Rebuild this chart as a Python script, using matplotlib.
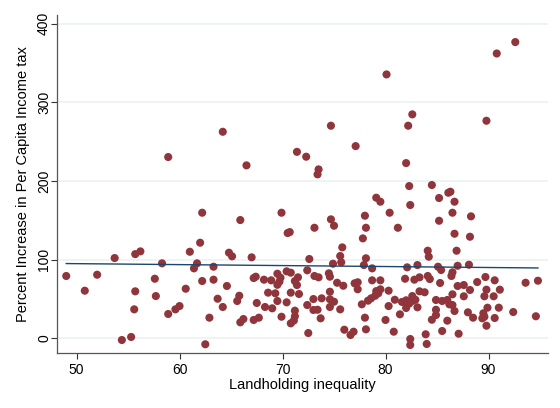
import matplotlib
matplotlib.use("Agg")
import matplotlib.pyplot as plt
import numpy as np

# values (landholding inequality, % increase)
land_top = [58.9, 64.2, 66.5, 71.4, 80.1, 82.6, 82.2, 74.7, 77.1, 72.3, 73.5, 73.4,
            82.0, 92.6, 90.8, 89.8]
tax_top = [230.4, 262.5, 219.8, 237, 335.4, 284.6, 270.2, 270.2, 244.3, 230.8, 214.7, 208.4,
           222.7, 376.5, 362, 276.5]

land_left = [49.0, 50.8, 52.0, 53.7, 55.7, 56.2, 58.3, 57.6, 55.7, 57.7, 55.6, 58.9,
             59.6, 60.0, 54.4, 55.3]
tax_left = [79.2, 60.5, 80.8, 102, 107, 110.5, 95.3, 75.7, 59.7, 53.7, 36.8, 30.9,
            36.8, 41, -2.2, 1.7]

land_mid1 = [62.2, 65.9, 69.9, 70.7, 70.5, 62.0, 61.0, 64.8, 65.1, 67.0, 61.7, 61.4,
             63.3, 62.2, 63.3, 60.6, 64.6, 67.2, 67.4, 68.2, 68.9, 69.5, 69.8, 69.7,
             69.5, 70.4, 70.8, 71.2, 71.4, 71.5, 70.8, 71.6, 68.6, 69.3, 69.5, 70.4,
             63.7, 64.2, 65.8, 65.6, 67.5, 68.3, 69.0, 71.2, 62.9, 65.9, 66.2, 67.2,
             67.7, 69.9, 70.8, 71.1, 71.2, 62.5]
tax_mid1 = [159.6, 150.3, 159.6, 135, 133.8, 121.5, 110, 108.8, 104.2, 102.9, 95.3, 88.9,
            91, 72.8, 74.5, 63, 66.5, 76.6, 78.3, 74.5, 73.7, 82.1, 77, 72,
            68, 85.1, 83.4, 72.8, 67.7, 77.5, 58, 56.3, 58, 57.2, 47.4, 45.7,
            50.3, 39.8, 54.1, 47.4, 44.9, 39.8, 38.1, 35.1, 26.2, 20.3, 24.5, 23.3,
            26.2, 27.4, 19, 22.5, 28, -7.6]

land_mid2 = [82.3, 79.1, 79.5, 82.4, 80.4, 78.0, 74.7, 75.0, 73.1, 78.1, 81.2, 77.8,
             75.8, 75.6, 75.7, 72.6, 74.9, 78.1, 77.9, 78.7, 82.1, 83.1, 72.4, 73.1,
             73.5, 74.5, 74.6, 75.3, 75.9, 77.0, 77.3, 77.3, 78.7, 79.5, 81.9, 82.8,
             73.0, 73.8, 74.6, 74.6, 75.0, 74.6, 72.4, 73.0, 73.4, 75.6, 73.7, 77.7,
             78.3, 78.6, 79.0, 79.1, 79.3, 79.5, 80.3, 80.9, 80.3, 81.6, 82.0, 82.3,
             82.6, 82.6, 82.9, 83.1, 82.0, 81.4, 78.0, 80.0, 76.0, 76.9, 76.6, 78.1,
             80.8, 72.5, 82.4, 82.4]
tax_mid2 = [193.5, 178.7, 173.6, 169.4, 159.6, 155.8, 151.2, 143.1, 140.5, 140.5, 140.5, 127,
            115.6, 104.6, 96.6, 100.8, 94.8, 101.7, 93.1, 88.9, 90.2, 93.1, 86.4, 79.2,
            77.5, 82.6, 78.3, 70.6, 66.8, 69.9, 71.2, 62.3, 73.7, 73.7, 75.7, 74.5,
            49.9, 50.8, 59.2, 49.6, 46.5, 39.8, 42.3, 36, 36.3, 36.8, 25.4, 43.2,
            47.8, 50.8, 54.1, 60, 57.2, 62.3, 60.5, 49, 41, 46.2, 48.3, 44.1,
            47.4, 53.7, 49, 39.4, 38.5, 30.5, 26.2, 23.3, 10.9, 8.4, 4.2, 11.4,
            8.4, 6.7, -0.9, -8.5]

land_right = [84.5, 86.1, 86.3, 85.2, 86.7, 86.5, 88.3, 85.2, 86.7, 88.2, 84.1, 84.2,
              86.9, 85.1, 85.4, 87.0, 88.1, 86.5, 86.4, 83.3, 84.1, 84.3, 85.3, 87.0,
              87.6, 88.9, 89.7, 90.6, 93.6, 94.8, 88.2, 89.8, 91.1, 83.3, 83.8, 86.5,
              87.6, 89.6, 90.5, 84.9, 85.5, 86.0, 86.2, 86.5, 84.9, 84.9, 86.7, 88.0,
              88.5, 89.5, 89.6, 89.4, 89.9, 91.0, 90.6, 92.4, 94.6, 84.5, 86.0, 89.8,
              85.5, 87.1, 83.9, 84.0]
tax_right = [194.8, 185, 186.3, 178.3, 173.6, 159.6, 155, 149.4, 132.9, 129.1, 111.3, 103.7,
             111.3, 91, 86.8, 92.2, 93.5, 83.9, 79.2, 77.5, 79.2, 75.3, 70.3, 66.5,
             67.7, 71.5, 77.9, 73.7, 70.6, 73.2, 61.4, 61.8, 61.8, 59.7, 58.5, 55.9,
             53.4, 53.4, 53.4, 48.7, 47.4, 48.7, 43.2, 42.3, 36.3, 29.6, 34.7, 33,
             26.2, 31.8, 27.4, 25.4, 38.9, 38.9, 25.8, 33.4, 28, 23.6, 22.4, 16,
             9.3, 5.8, 5.1, -7.2]

# linear fit as drawn in the reference
fit_x = [49.0, 94.8]
fit_y = [95.0, 89.4]

x_ticks = [50, 60, 70, 80, 90]
y_ticks = [0, 100, 200, 300, 400]

land = land_top + land_left + land_mid1 + land_mid2 + land_right
tax = tax_top + tax_left + tax_mid1 + tax_mid2 + tax_right

plt.rcParams['font.family'] = ['Liberation Sans', 'DejaVu Sans']

fig = plt.figure(figsize=(5.6, 4.08), dpi=100)
ax = fig.add_axes([0.101, 0.134, 0.878, 0.829])

for y in y_ticks:
    ax.axhline(y, color='#e9f0f1', lw=1.1, zorder=0)

ax.scatter(land, tax, s=34, color='#90353b', edgecolors='none', zorder=2)
ax.plot(fit_x, fit_y, color='#1a476f', lw=1.0, zorder=3)

ax.set_xlim(48.06, 95.8)
ax.set_ylim(-19.1, 410.8)
ax.set_xticks(x_ticks)
ax.set_yticks(y_ticks)
ax.set_yticklabels([str(v) for v in y_ticks], rotation=90, va='center')
ax.tick_params(axis='both', labelsize=10, length=4, width=0.8, color='#333333')
ax.tick_params(axis='y', pad=0)
ax.tick_params(axis='x', pad=3)

for side in ['top', 'right']:
    ax.spines[side].set_visible(False)
for side in ['left', 'bottom']:
    ax.spines[side].set_color('#555555')
    ax.spines[side].set_linewidth(0.9)

ax.set_xlabel('Landholding inequality', fontsize=10.5, labelpad=1)
ax.set_ylabel('Percent Increase in Per Capita Income tax', fontsize=10.5, labelpad=5)

fig.savefig('out.png', dpi=100, facecolor='white')
